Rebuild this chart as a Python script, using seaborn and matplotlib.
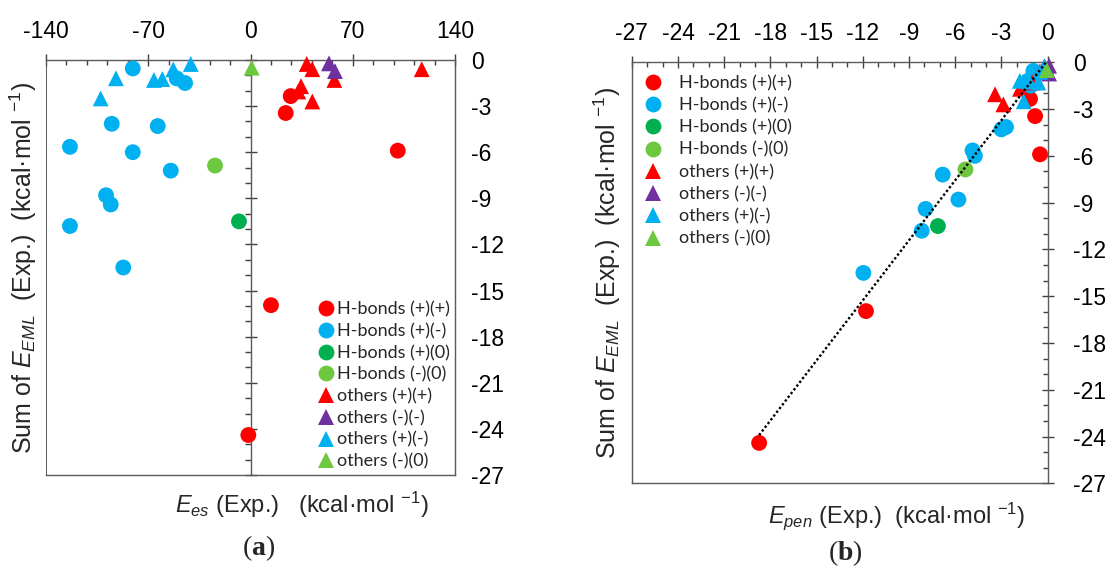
import numpy as np
import pandas as pd
import matplotlib
matplotlib.use("Agg")
import matplotlib.pyplot as plt
import seaborn as sns
from matplotlib.ticker import MultipleLocator

# --- datos (kcal/mol) ---
groups = ['H-bonds (+)(+)', 'H-bonds (+)(-)', 'H-bonds (+)(0)', 'H-bonds (-)(0)',
          'others (+)(+)', 'others (-)(-)', 'others (+)(-)', 'others (-)(0)']

# Sum of E_EML (Exp.)
eml_hb_pp = [-2.35, -3.45, -5.9, -15.95, -24.4]
eml_hb_pm = [-0.55, -1.2, -1.5, -4.15, -4.3, -5.65, -6.0, -7.2, -8.8, -9.4, -10.8, -13.5]
eml_hb_p0 = [-10.5]
eml_hb_m0 = [-6.87]
eml_ot_pp = [-0.26, -0.6, -1.3, -1.7, -2.05, -2.7, -0.6]
eml_ot_mm = [-0.22, -0.72]
eml_ot_pm = [-1.19, -2.5, -1.3, -1.24, -0.61, -0.26]
eml_ot_m0 = [-0.5]

# E_es (Exp.)
es_hb_pp = [27.5, 24.1, 100.8, 14.0, -1.5]
es_hb_pm = [-80.6, -50.5, -44.8, -95.0, -63.5, -123.6, -80.6, -54.6, -98.9, -95.7, -123.6, -87.1]
es_hb_p0 = [-7.9]
es_hb_m0 = [-24.3]
es_ot_pp = [38.5, 42.3, 57.4, 34.6, 32.7, 42.3, 117.2]
es_ot_mm = [53.7, 57.8]
es_ot_pm = [-92.1, -102.6, -66.1, -60.4, -52.9, -40.9]
es_ot_m0 = [0.8]

# E_pen (Exp.)
pen_hb_pp = [-1.14, -0.81, -0.49, -11.79, -18.73]
pen_hb_pm = [-0.92, -1.3, -1.1, -2.7, -3.0, -4.87, -4.72, -6.81, -5.79, -7.92, -8.17, -11.96]
pen_hb_p0 = [-7.12]
pen_hb_m0 = [-5.33]
pen_ot_pp = [-0.2, -0.5, -1.0, -1.79, -3.41, -2.87, -0.4]
pen_ot_mm = [0.1, 0.1]
pen_ot_pm = [-1.8, -1.55, -0.6, -1.2, -0.5, -0.2]
pen_ot_m0 = [-0.05]

# recta punteada del panel (b)
fit_slope = 1.283
fit_intercept = 0.13

# estilos
group_colors = ['#FF0000', '#00B0F0', '#00B050', '#6DC73F',
                '#FF0000', '#7030A0', '#00B0F0', '#6DC73F']
group_markers = ['o', 'o', 'o', 'o', '^', '^', '^', '^']
spine_color = '#5a5a5a'


def style_ticks(ax):
    ax.tick_params(which='major', direction='inout', length=9, width=1, colors='#404040',
                   labelcolor='black', labelsize=16.5)
    ax.tick_params(which='minor', direction='in', length=3.5, width=1, colors='#404040')
    ax.tick_params(axis='x', which='major', pad=8)
    for sp in ax.spines.values():
        sp.set_color(spine_color)
        sp.set_linewidth(1)


def main():
    sns.set_theme(style="white")
    plt.rcParams['font.family'] = ['Liberation Sans', 'DejaVu Sans']
    plt.rcParams['axes.unicode_minus'] = False
    plt.rcParams['mathtext.fontset'] = 'custom'
    plt.rcParams['mathtext.rm'] = 'Liberation Sans'
    plt.rcParams['mathtext.it'] = 'Liberation Sans:italic'
    plt.rcParams['mathtext.bf'] = 'Liberation Serif:bold'

    # 1. armar la tabla
    eml = [eml_hb_pp, eml_hb_pm, eml_hb_p0, eml_hb_m0, eml_ot_pp, eml_ot_mm, eml_ot_pm, eml_ot_m0]
    es = [es_hb_pp, es_hb_pm, es_hb_p0, es_hb_m0, es_ot_pp, es_ot_mm, es_ot_pm, es_ot_m0]
    pen = [pen_hb_pp, pen_hb_pm, pen_hb_p0, pen_hb_m0, pen_ot_pp, pen_ot_mm, pen_ot_pm, pen_ot_m0]
    frames = []
    for g, y, a, b in zip(groups, eml, es, pen):
        frames.append(pd.DataFrame({'group': g, 'eml': y, 'es': a, 'pen': b}))
    df = pd.concat(frames, ignore_index=True)

    palette = dict(zip(groups, group_colors))
    markers = dict(zip(groups, group_markers))

    fig = plt.figure(figsize=(11.07, 5.74), dpi=100)
    ax_a = fig.add_axes([0.04155, 0.1725, 0.3695, 0.7230])
    ax_b = fig.add_axes([0.5707, 0.1577, 0.3756, 0.7338])

    legend_font = {'family': 'Lato', 'size': 13}
    ylabel = r'Sum of $E_{EML}$  (Exp.)  (kcal·mol $^{-1}$)'

    # 2. panel (a): E_es
    sns.scatterplot(data=df, x='es', y='eml', hue='group', style='group',
                    hue_order=groups, style_order=groups, palette=palette, markers=markers,
                    s=130, linewidth=0, clip_on=False, zorder=3, ax=ax_a)
    ax_a.set_xlim(-140, 140)
    ax_a.set_ylim(-27, 0)
    ax_a.xaxis.set_major_locator(MultipleLocator(70))
    ax_a.xaxis.set_minor_locator(MultipleLocator(14))
    ax_a.yaxis.set_major_locator(MultipleLocator(3))
    ax_a.yaxis.set_minor_locator(MultipleLocator(1))
    ax_a.spines['left'].set_position(('data', 0))
    style_ticks(ax_a)
    ax_a.tick_params(axis='x', which='both', top=True, bottom=False, labeltop=True, labelbottom=False)
    ax_a.tick_params(axis='y', which='both', left=True, right=False, labelleft=False, labelright=True)
    ax_a.tick_params(axis='y', which='major', pad=7)
    ax_a.tick_params(axis='y', which='minor', direction='out', length=4)
    ax_a.axvline(ax_a.get_xlim()[0], color=spine_color, lw=1.4)
    ax_a.set_xlabel(r'$E_{es}$ (Exp.)   (kcal·mol $^{-1}$)', fontsize=17)
    ax_a.set_ylabel(ylabel, fontsize=18)
    ax_a.xaxis.set_label_coords(0.626, -0.036)
    ax_a.yaxis.set_label_coords(-0.017, 0.5)
    leg = ax_a.get_legend()
    ax_a.legend(leg.legend_handles, [t.get_text() for t in leg.get_texts()],
                loc='lower right', bbox_to_anchor=(1.0, 0.0), handletextpad=0.1,
                handlelength=1.0, frameon=False, prop=legend_font, labelspacing=0.31,
                borderpad=0.2, borderaxespad=0.1)

    # 3. panel (b): E_pen
    sns.scatterplot(data=df, x='pen', y='eml', hue='group', style='group',
                    hue_order=groups, style_order=groups, palette=palette, markers=markers,
                    s=130, linewidth=0, clip_on=False, zorder=3, ax=ax_b)
    xs = np.array([df['pen'].min(), -0.1])
    ax_b.plot(xs, fit_slope * xs + fit_intercept, color='black', ls=(0, (1, 1.0)),
              lw=1.7, zorder=4)
    ax_b.set_xlim(-27, 0)
    ax_b.set_ylim(-27, 0)
    ax_b.xaxis.set_major_locator(MultipleLocator(3))
    ax_b.xaxis.set_minor_locator(MultipleLocator(1))
    ax_b.yaxis.set_major_locator(MultipleLocator(3))
    ax_b.yaxis.set_minor_locator(MultipleLocator(1))
    style_ticks(ax_b)
    ax_b.tick_params(axis='x', which='both', top=True, bottom=False, labeltop=True, labelbottom=False)
    ax_b.tick_params(axis='y', which='both', left=False, right=True, labelleft=False, labelright=True)
    ax_b.tick_params(axis='y', which='major', pad=14)
    ax_b.set_xlabel(r'$E_{pen}$ (Exp.)  (kcal·mol $^{-1}$)', fontsize=17)
    ax_b.set_ylabel(ylabel, fontsize=18)
    ax_b.xaxis.set_label_coords(0.636, -0.039)
    ax_b.yaxis.set_label_coords(-0.022, 0.5)
    leg = ax_b.get_legend()
    ax_b.legend(leg.legend_handles, [t.get_text() for t in leg.get_texts()],
                loc='upper left', bbox_to_anchor=(0.0, 1.0), handletextpad=0.9,
                handlelength=1.0, frameon=False, prop=legend_font, labelspacing=0.34,
                borderpad=0.2)

    # 4. etiquetas de panel
    fig.text(0.2335, 0.045, r'($\mathbf{a}$)', family='Liberation Serif', fontsize=20,
             ha='center', va='center')
    fig.text(0.764, 0.037, r'($\mathbf{b}$)', family='Liberation Serif', fontsize=20,
             ha='center', va='center')

    fig.savefig('out.png', dpi=100)


if __name__ == '__main__':
    main()
